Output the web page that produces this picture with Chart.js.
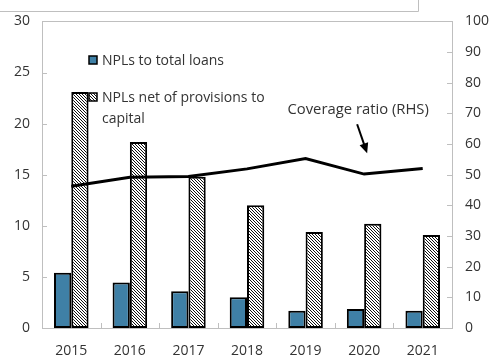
<!DOCTYPE html>
<html>
<head>
<meta charset="utf-8">
<script src="https://cdn.jsdelivr.net/npm/chart.js@4/dist/chart.umd.min.js"></script>
<style>
    html, body { margin: 0; padding: 0; background: #fff; }
    #wrap { width: 492px; height: 357px; position: relative; }
</style>
</head>
<body>
<div id="wrap"><canvas id="nplChart"></canvas></div>
<script>
// data
var years = ['2015', '2016', '2017', '2018', '2019', '2020', '2021'];
var nplToLoans = [5.4, 4.45, 3.6, 3.0, 1.7, 1.85, 1.7];
var nplNetToCapital = [23.1, 18.2, 14.8, 12.0, 9.4, 10.2, 9.1];
var coverageRatio = [46.2, 49.2, 49.4, 51.9, 55.3, 50.2, 52.0];
var leftTicks = [0, 5, 10, 15, 20, 25, 30];
var rightTicks = [0, 10, 20, 30, 40, 50, 60, 70, 80, 90, 100];

var FONT = 'Open Sans';
var TEXT = '#333333';
var AXIS = '#bfbfbf';
var BLUE = '#3f80a6';

function hatch() {
    var n = 3;
    var c = document.createElement('canvas');
    c.width = n; c.height = n;
    var g = c.getContext('2d');
    g.fillStyle = '#fff';
    g.fillRect(0, 0, n, n);
    g.strokeStyle = '#111';
    g.lineWidth = 1;
    g.beginPath();
    g.moveTo(-1, -1); g.lineTo(n + 1, n + 1);
    g.moveTo(-1, n - 1); g.lineTo(1, n + 1);
    g.moveTo(n - 1, -1); g.lineTo(n + 1, 1);
    g.stroke();
    return g.createPattern(c, 'repeat');
}
var hatchFill = hatch();

// frame, inward tick marks, legend and the arrow note
var decor = {
    id: 'decor',
    beforeDatasetsDraw: function(chart) {
        var ctx = chart.ctx, a = chart.chartArea;
        var x = chart.scales.x, yl = chart.scales.y, yr = chart.scales.y1;
        ctx.save();
        ctx.strokeStyle = AXIS;
        ctx.lineWidth = 1;
        ctx.beginPath();
        // faint outer edge seen in the source image
        ctx.moveTo(0, 11.5); ctx.lineTo(418.5, 11.5); ctx.lineTo(418.5, 0);
        ctx.strokeRect(Math.round(a.left) + 0.5, Math.round(a.top) + 0.5,
            Math.round(a.right - a.left), Math.round(a.bottom - a.top));
        leftTicks.forEach(function(v) {
            var py = Math.round(yl.getPixelForValue(v)) + 0.5;
            ctx.moveTo(a.left, py); ctx.lineTo(a.left + 5, py);
        });
        rightTicks.forEach(function(v) {
            var py = Math.round(yr.getPixelForValue(v)) + 0.5;
            ctx.moveTo(a.right - 5, py); ctx.lineTo(a.right, py);
        });
        for (var i = 1; i < years.length; i++) {
            var px = Math.round((x.getPixelForValue(i - 1) + x.getPixelForValue(i)) / 2) + 0.5;
            ctx.moveTo(px, a.bottom); ctx.lineTo(px, a.bottom - 5);
        }
        ctx.stroke();
        ctx.restore();
    },
    afterDraw: function(chart) {
        var ctx = chart.ctx, a = chart.chartArea;
        var x = chart.scales.x, yr = chart.scales.y1;
        ctx.save();
        ctx.font = '14px "' + FONT + '"';
        ctx.fillStyle = TEXT;
        ctx.textBaseline = 'middle';

        // legend
        var lx = a.left + 47;
        ctx.lineWidth = 1.5;
        ctx.strokeStyle = '#000';
        ctx.fillStyle = BLUE;
        ctx.fillRect(lx, 56, 8, 8);
        ctx.strokeRect(lx, 56, 8, 8);
        ctx.fillStyle = hatchFill;
        ctx.fillRect(lx, 93, 8, 8);
        ctx.strokeRect(lx, 93, 8, 8);
        ctx.fillStyle = TEXT;
        ctx.fillText('NPLs to total loans', lx + 13, 61);
        ctx.fillText('NPLs net of provisions to', lx + 13, 98);
        ctx.fillText('capital', lx + 13, 119);

        // coverage ratio note with arrow pointing at the line
        var tipX = x.getPixelForValue(5) + 3;
        var tipY = yr.getPixelForValue(57);
        var tailX = tipX - 10, tailY = tipY - 29;
        ctx.textAlign = 'center';
        ctx.font = '14.8px "' + FONT + '"';
        ctx.fillText('Coverage ratio (RHS)', tailX + 1, tailY - 14);
        var ang = Math.atan2(tipY - tailY, tipX - tailX);
        ctx.strokeStyle = '#000';
        ctx.lineWidth = 2;
        ctx.beginPath();
        ctx.moveTo(tailX, tailY);
        ctx.lineTo(tipX - 7 * Math.cos(ang), tipY - 7 * Math.sin(ang));
        ctx.stroke();
        ctx.fillStyle = '#000';
        ctx.beginPath();
        ctx.moveTo(tipX, tipY);
        ctx.lineTo(tipX - 10 * Math.cos(ang) + 4.5 * Math.sin(ang), tipY - 10 * Math.sin(ang) - 4.5 * Math.cos(ang));
        ctx.lineTo(tipX - 10 * Math.cos(ang) - 4.5 * Math.sin(ang), tipY - 10 * Math.sin(ang) + 4.5 * Math.cos(ang));
        ctx.closePath();
        ctx.fill();
        ctx.restore();
    }
};

var tickFont = { family: FONT, size: 14 };

new Chart(document.getElementById('nplChart'), {
    type: 'bar',
    data: {
        labels: years,
        datasets: [
            {
                type: 'line',
                label: 'Coverage ratio (RHS)',
                data: coverageRatio,
                yAxisID: 'y1',
                borderColor: '#000',
                borderWidth: 3,
                pointRadius: 0,
                tension: 0,
                fill: false,
                order: 0
            },
            {
                label: 'NPLs to total loans',
                data: nplToLoans,
                yAxisID: 'y',
                backgroundColor: BLUE,
                borderColor: '#000',
                borderWidth: 2,
                borderSkipped: false,
                order: 1
            },
            {
                label: 'NPLs net of provisions to capital',
                data: nplNetToCapital,
                yAxisID: 'y',
                backgroundColor: hatchFill,
                borderColor: '#000',
                borderWidth: 2,
                borderSkipped: false,
                order: 1
            }
        ]
    },
    options: {
        responsive: true,
        maintainAspectRatio: false,
        animation: false,
        layout: { padding: { top: 15, left: 0, right: 0, bottom: 0 } },
        datasets: { bar: { categoryPercentage: 0.59, barPercentage: 1.0 } },
        plugins: {
            legend: { display: false },
            tooltip: { enabled: false }
        },
        scales: {
            x: {
                offset: true,
                grid: { display: false, drawTicks: false },
                border: { display: false },
                ticks: { color: TEXT, font: tickFont, padding: 15, maxRotation: 0 },
                afterFit: function(s) { s.height = 29; }
            },
            y: {
                position: 'left',
                min: 0, max: 30,
                afterBuildTicks: function(s) { s.ticks = leftTicks.map(function(v) { return { value: v }; }); },
                grid: { display: false, drawTicks: false },
                border: { display: false },
                ticks: { color: TEXT, font: tickFont, padding: 12 },
                afterFit: function(s) { s.width = 42; }
            },
            y1: {
                position: 'right',
                min: 0, max: 100,
                afterBuildTicks: function(s) { s.ticks = rightTicks.map(function(v) { return { value: v }; }); },
                grid: { display: false, drawTicks: false },
                border: { display: false },
                ticks: { color: TEXT, font: tickFont, padding: 13 },
                afterFit: function(s) { s.width = 40; }
            }
        }
    },
    plugins: [decor]
});
</script>
</body>
</html>
